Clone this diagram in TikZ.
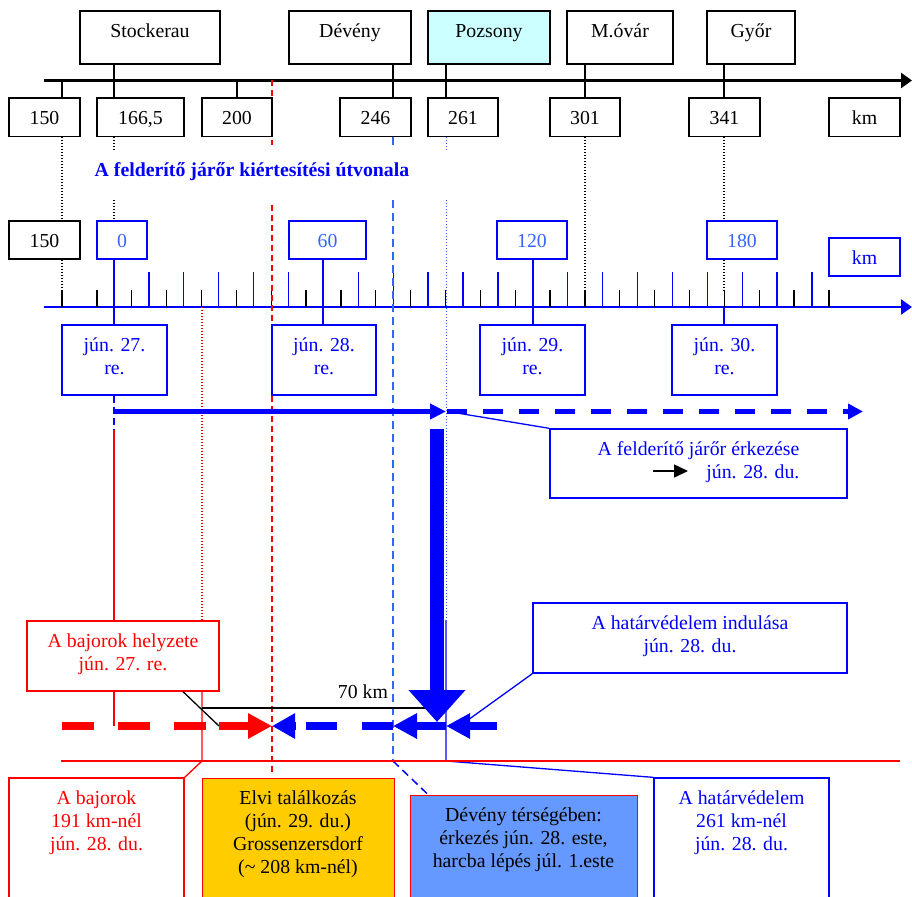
\documentclass[tikz,border=0pt]{standalone}
\usepackage{fontspec}
\setmainfont{Liberation Serif}
\usetikzlibrary{arrows.meta}
\pgfdeclarelayer{bg}
\pgfsetlayers{bg,main}
\definecolor{mblue}{RGB}{0,0,255}
\definecolor{lblue}{RGB}{51,102,255}
\definecolor{mred}{RGB}{255,0,0}
\definecolor{cyanL}{RGB}{204,255,255}
\definecolor{yel}{RGB}{255,204,0}
\definecolor{dbl}{RGB}{102,153,255}
\begin{document}
\begin{tikzpicture}[x=1pt,y=-1pt,font=\fontsize{19.8}{23}\selectfont,
  bx/.style={draw, line width=1.3pt, fill=white, inner sep=0pt, rectangle},
  bxB/.style={bx, draw=mblue},
  bxR/.style={bx, draw=mred},
  lb/.style={anchor=north, yshift=-10.9pt, inner sep=0pt, align=center},
  cn/.style={line width=1.3pt},
  cnb/.style={line width=1.3pt, mblue},
  dotb/.style={line width=1.2pt, dash pattern=on 1.2pt off 1.8pt},
  tk/.style={line width=1.3pt},
  tkb/.style={line width=1.3pt, mblue},
  axisln/.style={line width=2.5pt, -{Triangle[length=11pt,width=15pt]}},
  thickb/.style={mblue, line width=7.5pt},
]
\useasboundingbox (0,0) rectangle (912,896);
\clip (0,0) rectangle (912,896);

% ---------- top row
\node[bx, minimum width=140pt, minimum height=53pt, label={[lb]north:{\strut Stockerau}}] (stk) at (150,37.5) {};
\node[bx, minimum width=122pt, minimum height=53pt, label={[lb]north:{\strut Dévény}}] (dev) at (350,37.5) {};
\node[bx, fill=cyanL, minimum width=122pt, minimum height=53pt, label={[lb]north:{\strut Pozsony}}] (poz) at (489,37.5) {};
\node[bx, minimum width=106pt, minimum height=53pt, label={[lb]north:{\strut M.óvár}}] (mov) at (620,37.5) {};
\node[bx, minimum width=88pt, minimum height=53pt, label={[lb]north:{\strut Győr}}] (gyor) at (751,37.5) {};

% ---------- km row
\node[bx, minimum width=71pt, minimum height=38.5pt, label={[lb]north:{\strut 150}}] (n150) at (44.5,117.25) {};
\node[bx, minimum width=87pt, minimum height=38.5pt, label={[lb]north:{\strut 166,5}}] (n166) at (140.5,117.25) {};
\node[bx, minimum width=70pt, minimum height=38.5pt, label={[lb]north:{\strut 200}}] (n200) at (237,117.25) {};
\node[bx, minimum width=71pt, minimum height=38.5pt, label={[lb]north:{\strut 246}}] (n246) at (375.5,117.25) {};
\node[bx, minimum width=70pt, minimum height=38.5pt, label={[lb]north:{\strut 261}}] (n261) at (463,117.25) {};
\node[bx, minimum width=70pt, minimum height=38.5pt, label={[lb]north:{\strut 301}}] (n301) at (585,117.25) {};
\node[bx, minimum width=71pt, minimum height=38.5pt, label={[lb]north:{\strut 341}}] (n341) at (724.5,117.25) {};
\node[bx, minimum width=71pt, minimum height=38.5pt, label={[lb]north:{\strut km}}] (nkm) at (864.5,117.25) {};

% ---------- title
\node[anchor=base, text=mblue, font=\fontsize{19.8}{23}\selectfont\bfseries] (title) at (252,176) {A felderítő járőr kiértesítési útvonala};

% ---------- second scale row
\node[bx, minimum width=71pt, minimum height=38pt, label={[lb]north:{\strut 150}}] (n150b) at (44.5,240) {};
\node[bxB, minimum width=50pt, minimum height=38pt, label={[lb,text=lblue]north:{\strut 0}}] (k0) at (122,240) {};
\node[bxB, minimum width=77pt, minimum height=38pt, label={[lb,text=lblue]north:{\strut 60}}] (k60) at (327.5,240) {};
\node[bxB, minimum width=70pt, minimum height=38pt, label={[lb,text=lblue]north:{\strut 120}}] (k120) at (532,240) {};
\node[bxB, minimum width=70pt, minimum height=38pt, label={[lb,text=lblue]north:{\strut 180}}] (k180) at (742,240) {};
\node[bxB, minimum width=71pt, minimum height=38pt, label={[lb,text=mblue]north:{\strut km}}] (kmb) at (864.5,257) {};

% ---------- date boxes
\node[bxB, minimum width=105pt, minimum height=70pt, label={[lb,text=mblue]north:{\strut jún. 27.\\re.}}] (d27) at (114.5,360) {};
\node[bxB, minimum width=104pt, minimum height=70pt, label={[lb,text=mblue]north:{\strut jún. 28.\\re.}}] (d28) at (324,360) {};
\node[bxB, minimum width=105pt, minimum height=70pt, label={[lb,text=mblue]north:{\strut jún. 29.\\re.}}] (d29) at (532.5,360) {};
\node[bxB, minimum width=105pt, minimum height=70pt, label={[lb,text=mblue]north:{\strut jún. 30.\\re.}}] (d30) at (724.5,360) {};

% ---------- callout boxes
\node[bxB, minimum width=297pt, minimum height=69pt, label={[lb,text=mblue,align=right,xshift=0pt]north:{\strut A felderítő járőr érkezése\\jún. 28. du.}}] (felderkez) at (698.5,463.5) {};
\node[bxB, minimum width=314pt, minimum height=70pt, label={[lb,text=mblue]north:{\strut A határvédelem indulása\\jún. 28. du.}}] (hatind) at (690,638) {};
\node[bxR, minimum width=192pt, minimum height=70pt, label={[lb,text=mred]north:{\strut A bajorok helyzete\\jún. 27. re.}}] (bajhely) at (123,656) {};

% ---------- bottom boxes
\node[bxR, minimum width=175pt, minimum height=142pt, label={[lb,text=mred]north:{\strut A bajorok\\191 km-nél\\jún. 28. du.}}] (baj191) at (96.5,849) {};
\node[bxR, fill=yel, line width=1pt, minimum width=192pt, minimum height=142pt, label={[lb]north:{\strut Elvi találkozás\\(jún. 29. du.)\\Grossenzersdorf\\(\textasciitilde{} 208 km-nél)}}] (elvi) at (298,849) {};
\node[bxR, fill=dbl, line width=1pt, minimum width=227pt, minimum height=125pt, label={[lb]north:{\strut Dévény térségében:\\érkezés jún. 28. este,\\harcba lépés júl. 1.este}}] (devter) at (523.5,857.5) {};
\node[bxB, minimum width=175pt, minimum height=142pt, label={[lb,text=mblue]north:{\strut A határvédelem\\261 km-nél\\jún. 28. du.}}] (hat261) at (741.5,849) {};

\node[anchor=base] (km70) at (363,698) {70 km};

% ---------- background lines
\begin{pgfonlayer}{bg}
\coordinate (tA) at (44,80.5);
\coordinate (tB) at (912,80.5);
\coordinate (bA) at (44,307);
\coordinate (bB) at (912,307);
\draw[axisln] (tA) -- (tB);
\draw[axisln, mblue] (bA) -- (bB);
% top connectors
\foreach \n/\m/\x in {stk/n166/114, dev/n246/393, poz/n261/446, mov/n301/585, gyor/n341/724}
  \draw[cn] (\n.south -| \x,0) -- (\m.north -| \x,0);
\draw[cn] (tA -| 62,0) -- (n150.north -| 62,0);
\draw[cn] (tA -| 237,0) -- (n200.north -| 237,0);
% ticks
\foreach \i in {0,...,20}
  \draw[tkb] ({114+34.9*\i},272) -- ({114+34.9*\i},307);
\foreach \i in {0,...,22}
  \draw[tk] ({62+34.86*\i},290) -- ({62+34.86*\i},307);
% dotted black
\draw[dotb] (n150.south -| 62,0) -- (n150b.north -| 62,0);
\draw[dotb] (n150b.south -| 62,0) -- (62,290);
\draw[dotb] (n166.south -| 114,0) -- (114,150);
\draw[dotb] (114,200) -- (k0.north -| 114,0);
\draw[dotb] (n301.south -| 585,0) -- (585,290);
\draw[dotb] (n341.south -| 724,0) -- (k180.north -| 724,0);
\draw[dotb] (k180.south -| 724,0) -- (724,290);
% blue connectors of scale
\draw[cnb] (k0.south -| 114,0) -- (d27.north -| 114,0);
\draw[cnb] (k60.south -| 323,0) -- (d28.north -| 323,0);
\draw[cnb] (k120.south -| 533,0) -- (d29.north -| 533,0);
\draw[cnb] (bA -| 724,0) -- (d30.north -| 724,0);
% red dashed 272
\draw[mred, line width=1.5pt, dash pattern=on 6pt off 4pt] (tA -| 272,0) -- (272,145);
\draw[mred, line width=1.5pt, dash pattern=on 6pt off 4pt] (272,205) -- (d28.north -| 272,0);
\draw[mred, line width=1.5pt, dash pattern=on 6pt off 4pt] (d28.south -| 272,0) -- (272,773);
% light blue dashed 393
\draw[lblue, line width=1.5pt, dash pattern=on 8pt off 5pt] (n246.south -| 393,0) -- (393,150);
\draw[lblue, line width=1.5pt, dash pattern=on 8pt off 5pt] (393,200) -- (393,761);
\draw[mblue, line width=1.5pt, dash pattern=on 8pt off 5pt] (393,761) -- (devter.north -| 428,0);
% fine dotted 446
\draw[lblue, line width=0.8pt, dash pattern=on 1pt off 2pt] (n261.south -| 446,0) -- (446,150);
\draw[lblue, line width=0.8pt, dash pattern=on 1pt off 2pt] (446,200) -- (446,620);
\draw[cnb] (446,620) -- (446,761) -- (hat261.north west);
% red 202
\draw[mred, line width=1.3pt, dash pattern=on 1.3pt off 1.7pt] (bA -| 202,0) -- (bajhely.north -| 202,0);
\draw[mred, line width=1.3pt] (bajhely.south -| 202,0) -- (202,761) -- (baj191.north east);
% red / blue 114
\draw[mblue, line width=1.5pt, dash pattern=on 7pt off 4pt] (d27.south -| 114,0) -- (114,430);
\draw[mred, line width=1.5pt] (114,430) -- (bajhely.north -| 114,0);
\draw[mred, line width=1.5pt] (bajhely.south -| 114,0) -- (114,726);
% red horizontal
\draw[mred, line width=1.3pt] (61,761) -- (900,761);
\end{pgfonlayer}

% ---------- foreground arrows
\draw[mblue, line width=5pt, -{Triangle[length=16pt,width=15pt]}] (114,411.5) -- (446,411.5);
\draw[mblue, line width=5pt, dash pattern=on 20pt off 16pt, -{Triangle[length=15pt,width=15pt]}] (447,411.5) -- (863,411.5);
\draw[cnb] (457,413) -- (felderkez.north west);
\draw[line width=1.5pt, -{Triangle[length=14pt,width=13pt]}] (653,471) -- (688,471);

\draw[cn] (202,708) -- (430,708);
\draw[cn] (bajhely.south -| 183,0) -- (219,726);

\draw[mred, line width=7.5pt, dash pattern=on 32pt off 24pt] (62,726) -- (206,726);
\draw[mred, line width=7.5pt, -{Triangle[length=24pt,width=24pt]}] (219,726) -- (272,726);

\draw[thickb, -{Triangle[length=24pt,width=24pt]}] (497,726) -- (446,726);
\draw[thickb, -{Triangle[length=24pt,width=24pt]}] (446,726) -- (393,726);
\draw[thickb, dash pattern=on 31pt off 25pt] (393,726) -- (306,726);
\draw[thickb, -{Triangle[length=23pt,width=24pt]}] (296,726) -- (272,726);

\draw[mblue, line width=14pt, -{Triangle[length=32pt,width=55pt]}] (437,429) -- (437,722);
\draw[cnb] (hatind.south west) -- (468,720);
\end{tikzpicture}
\end{document}
